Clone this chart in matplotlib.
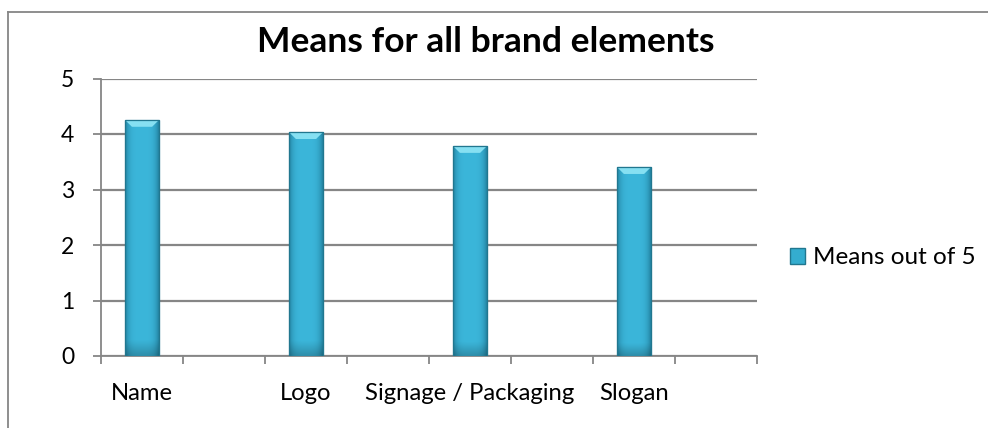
import numpy as np
import matplotlib
matplotlib.use("Agg")
import matplotlib.pyplot as plt
from matplotlib.patches import Polygon, Rectangle
from matplotlib.lines import Line2D

title = "Means for all brand elements"
categories = ["Name", "", "Logo", "", "Signage / Packaging", "", "Slogan", ""]
values = [4.25, np.nan, 4.03, np.nan, 3.78, np.nan, 3.40, np.nan]
series_name = "Means out of 5"
yticks = [0, 1, 2, 3, 4, 5]

FONT = "Lato"
plt.rcParams["font.family"] = [FONT, "DejaVu Sans"]

W, H = 988, 428
fig = plt.figure(figsize=(W / 100, H / 100), dpi=100)
ax = fig.add_axes([101 / W, 1 - 356 / H, (757 - 101) / W, (356 - 78.5) / H])

x = np.arange(len(categories))
base = "#34ADCF"
bars = ax.bar(x, values, width=0.41, color=base, edgecolor="#237F9A", linewidth=0.8, zorder=3)

# gradient + bevel decoration on each bar
grad = np.linspace(0, 1, 64)
prof = 1 - (2 * grad - 1) ** 4
prof = (prof - prof.min()) / (prof.max() - prof.min())
c0 = np.array([0x24, 0x84, 0xA2]) / 255
c1 = np.array([0x3B, 0xB6, 0xDA]) / 255
vert = np.linspace(0, 1, 64)
img = np.zeros((64, 64, 3))
for r in range(64):
    img[r] = (c0 + (c1 - c0) * prof[:, None]) * (0.8 + 0.2 * np.clip(vert[r] / 0.06, 0, 1))
img = img[::-1]
for b in bars:
    h = b.get_height()
    if not np.isfinite(h):
        continue
    x0, w = b.get_x(), b.get_width()
    im = ax.imshow(img, extent=[x0, x0 + w, 0, h], aspect="auto", zorder=3.5, interpolation="bilinear")
    im.set_clip_path(b)
    dy = 0.12
    tri = Polygon([[x0, h], [x0 + w, h], [x0 + w - w * 0.2, h - dy], [x0 + w * 0.2, h - dy]],
                  closed=True, facecolor="#86E0F2", edgecolor="none", zorder=3.6)
    ax.add_patch(tri)
    ax.add_patch(Rectangle((x0, 0), w, h, facecolor="none", edgecolor="#21778F", linewidth=0.9, zorder=3.7))

ax.set_xlim(-0.5, len(categories) - 0.5)
ax.set_ylim(0, 5)
ax.set_yticks(yticks)
ax.set_yticklabels([str(v) for v in yticks], fontsize=16.5)
ax.set_xticks(x)
ax.set_xticklabels(categories, fontsize=17.2)
ax.set_xticks(np.arange(-0.5, len(categories)), minor=True)
ax.tick_params(axis="x", which="major", length=0, pad=19.5)
ax.tick_params(axis="x", which="minor", length=5.8, width=1.3, color="#868686", direction="out")
ax.tick_params(axis="y", length=5.8, width=1.3, color="#868686", direction="out", pad=13.5)
ax.yaxis.grid(True, color="#868686", linewidth=1.6, zorder=0)
ax.set_axisbelow(True)
for s in ["top", "right"]:
    ax.spines[s].set_visible(False)
for s in ["left", "bottom"]:
    ax.spines[s].set_color("#868686")
    ax.spines[s].set_linewidth(1.3)

fig.text(486 / W, 1 - 42 / H, title, ha="center", va="center", fontsize=25.5, fontweight="bold")

handle = Rectangle((0, 0), 1, 1, facecolor=base, edgecolor="#21778F")
fig.legend([handle], [series_name], loc="center left", bbox_to_anchor=(768 / W, 1 - 258 / H),
           frameon=False, fontsize=17.5, handlelength=0.62, handleheight=0.62, handletextpad=0.35)

# chart area border (left and top edges visible)
fig.add_artist(Line2D([8 / W, 8 / W], [0, 1 - 12 / H], transform=fig.transFigure, color="#868686", linewidth=1.3))
fig.add_artist(Line2D([8 / W, 1], [1 - 12 / H, 1 - 12 / H], transform=fig.transFigure, color="#868686", linewidth=1.3))

fig.savefig("out.png", dpi=100)
